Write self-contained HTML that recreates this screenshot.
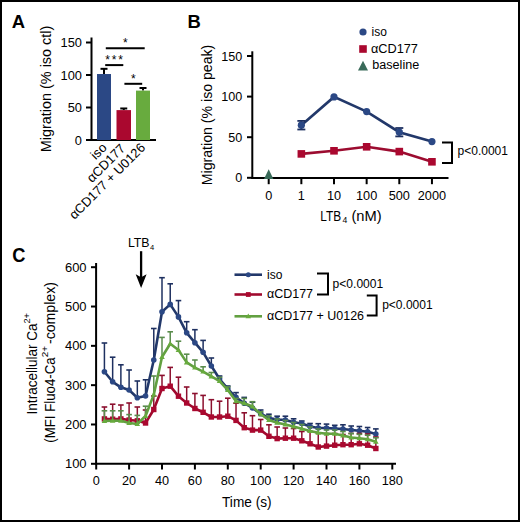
<!DOCTYPE html>
<html><head><meta charset="utf-8"><style>
html,body{margin:0;padding:0;background:#fff;overflow:hidden;width:520px;height:522px;}
svg{display:block;}
text{font-family:"Liberation Sans", sans-serif;fill:#000;}
</style></head><body>
<svg width="520" height="522" viewBox="0 0 520 522">
<rect x="0" y="0" width="520" height="522" fill="#000"/>
<rect x="2" y="2" width="516" height="518" fill="#fff"/>
<text x="11.8" y="27.5" font-size="18.6" text-anchor="start" font-weight="bold" textLength="13.3" lengthAdjust="spacingAndGlyphs" >A</text>
<line x1="91.5" y1="37.5" x2="91.5" y2="141" stroke="#000" stroke-width="2" stroke-linecap="butt"/>
<line x1="86" y1="140.0" x2="91.5" y2="140.0" stroke="#000" stroke-width="2" stroke-linecap="butt"/>
<text x="82" y="144.6" font-size="12" text-anchor="end" font-weight="normal" textLength="7.14" lengthAdjust="spacingAndGlyphs" >0</text>
<line x1="86" y1="107.5" x2="91.5" y2="107.5" stroke="#000" stroke-width="2" stroke-linecap="butt"/>
<text x="82" y="112.1" font-size="12" text-anchor="end" font-weight="normal" textLength="14.28" lengthAdjust="spacingAndGlyphs" >50</text>
<line x1="86" y1="75.0" x2="91.5" y2="75.0" stroke="#000" stroke-width="2" stroke-linecap="butt"/>
<text x="82" y="79.6" font-size="12" text-anchor="end" font-weight="normal" textLength="21.42" lengthAdjust="spacingAndGlyphs" >100</text>
<line x1="86" y1="42.5" x2="91.5" y2="42.5" stroke="#000" stroke-width="2" stroke-linecap="butt"/>
<text x="82" y="47.1" font-size="12" text-anchor="end" font-weight="normal" textLength="21.42" lengthAdjust="spacingAndGlyphs" >150</text>
<line x1="86" y1="140" x2="156" y2="140" stroke="#000" stroke-width="2" stroke-linecap="butt"/>
<line x1="104.0" y1="74.02499999999999" x2="104.0" y2="68.825" stroke="#000" stroke-width="2" stroke-linecap="butt"/>
<line x1="100.5" y1="68.825" x2="107.5" y2="68.825" stroke="#000" stroke-width="2" stroke-linecap="butt"/>
<rect x="97" y="74.02499999999999" width="14" height="65.97500000000001" fill="#2b4885"/>
<line x1="123.75" y1="110.1" x2="123.75" y2="108.475" stroke="#000" stroke-width="2" stroke-linecap="butt"/>
<line x1="120.25" y1="108.475" x2="127.25" y2="108.475" stroke="#000" stroke-width="2" stroke-linecap="butt"/>
<rect x="116.5" y="110.1" width="14.5" height="29.900000000000006" fill="#aa082f"/>
<line x1="143.0" y1="90.6" x2="143.0" y2="88.0" stroke="#000" stroke-width="2" stroke-linecap="butt"/>
<line x1="139.5" y1="88.0" x2="146.5" y2="88.0" stroke="#000" stroke-width="2" stroke-linecap="butt"/>
<rect x="136" y="90.6" width="14" height="49.400000000000006" fill="#68ab3e"/>
<line x1="105.8" y1="48.3" x2="144.7" y2="48.3" stroke="#000" stroke-width="2" stroke-linecap="butt"/>
<text x="125.4" y="47.0" font-size="12" text-anchor="middle" font-weight="normal" >*</text>
<line x1="105.2" y1="65.1" x2="123.3" y2="65.1" stroke="#000" stroke-width="2" stroke-linecap="butt"/>
<text x="107.5" y="63.8" font-size="12" text-anchor="middle" font-weight="normal" >*</text>
<text x="114.05" y="63.8" font-size="12" text-anchor="middle" font-weight="normal" >*</text>
<text x="120.6" y="63.8" font-size="12" text-anchor="middle" font-weight="normal" >*</text>
<line x1="124.4" y1="83.8" x2="142.2" y2="83.8" stroke="#000" stroke-width="2" stroke-linecap="butt"/>
<text x="133.3" y="82.5" font-size="12" text-anchor="middle" font-weight="normal" >*</text>
<text transform="translate(50.9,152.3) rotate(-90)" font-size="15.5" textLength="126.6" lengthAdjust="spacingAndGlyphs">Migration (% iso ctl)</text>
<text transform="translate(107.5,148.5) rotate(-45)" font-size="13" text-anchor="end" textLength="16.62" lengthAdjust="spacingAndGlyphs">iso</text>
<text transform="translate(126.0,149.3) rotate(-45)" font-size="13" text-anchor="end" textLength="47.98" lengthAdjust="spacingAndGlyphs">&#945;CD177</text>
<text transform="translate(146,148.5) rotate(-45)" font-size="13" text-anchor="end" textLength="101.1" lengthAdjust="spacingAndGlyphs">&#945;CD177 + U0126</text>
<text x="187.4" y="27.5" font-size="18.6" text-anchor="start" font-weight="bold" textLength="13.3" lengthAdjust="spacingAndGlyphs" >B</text>
<line x1="252.3" y1="51.3" x2="252.3" y2="178.8" stroke="#000" stroke-width="2" stroke-linecap="butt"/>
<line x1="247" y1="177.8" x2="252.3" y2="177.8" stroke="#000" stroke-width="2" stroke-linecap="butt"/>
<text x="242.3" y="182.4" font-size="12" text-anchor="end" font-weight="normal" textLength="7.01" lengthAdjust="spacingAndGlyphs" >0</text>
<line x1="247" y1="137.20000000000002" x2="252.3" y2="137.20000000000002" stroke="#000" stroke-width="2" stroke-linecap="butt"/>
<text x="242.3" y="141.8" font-size="12" text-anchor="end" font-weight="normal" textLength="14.01" lengthAdjust="spacingAndGlyphs" >50</text>
<line x1="247" y1="96.60000000000001" x2="252.3" y2="96.60000000000001" stroke="#000" stroke-width="2" stroke-linecap="butt"/>
<text x="242.3" y="101.2" font-size="12" text-anchor="end" font-weight="normal" textLength="21.02" lengthAdjust="spacingAndGlyphs" >100</text>
<line x1="247" y1="56.0" x2="252.3" y2="56.0" stroke="#000" stroke-width="2" stroke-linecap="butt"/>
<text x="242.3" y="60.6" font-size="12" text-anchor="end" font-weight="normal" textLength="21.02" lengthAdjust="spacingAndGlyphs" >150</text>
<line x1="251.3" y1="178.10000000000002" x2="448.5" y2="178.10000000000002" stroke="#000" stroke-width="2" stroke-linecap="butt"/>
<line x1="268.7" y1="177.8" x2="268.7" y2="184.2" stroke="#000" stroke-width="2" stroke-linecap="butt"/>
<text x="268.7" y="200" font-size="12" text-anchor="middle" font-weight="normal" textLength="7.07" lengthAdjust="spacingAndGlyphs" >0</text>
<line x1="301.34999999999997" y1="177.8" x2="301.34999999999997" y2="184.2" stroke="#000" stroke-width="2" stroke-linecap="butt"/>
<text x="301.34999999999997" y="200" font-size="12" text-anchor="middle" font-weight="normal" textLength="7.07" lengthAdjust="spacingAndGlyphs" >1</text>
<line x1="334.0" y1="177.8" x2="334.0" y2="184.2" stroke="#000" stroke-width="2" stroke-linecap="butt"/>
<text x="334.0" y="200" font-size="12" text-anchor="middle" font-weight="normal" textLength="14.15" lengthAdjust="spacingAndGlyphs" >10</text>
<line x1="366.65" y1="177.8" x2="366.65" y2="184.2" stroke="#000" stroke-width="2" stroke-linecap="butt"/>
<text x="366.65" y="200" font-size="12" text-anchor="middle" font-weight="normal" textLength="21.22" lengthAdjust="spacingAndGlyphs" >100</text>
<line x1="399.29999999999995" y1="177.8" x2="399.29999999999995" y2="184.2" stroke="#000" stroke-width="2" stroke-linecap="butt"/>
<text x="399.29999999999995" y="200" font-size="12" text-anchor="middle" font-weight="normal" textLength="21.22" lengthAdjust="spacingAndGlyphs" >500</text>
<line x1="431.95" y1="177.8" x2="431.95" y2="184.2" stroke="#000" stroke-width="2" stroke-linecap="butt"/>
<text x="431.95" y="200" font-size="12" text-anchor="middle" font-weight="normal" textLength="28.29" lengthAdjust="spacingAndGlyphs" >2000</text>
<text x="320.2" y="220.6" font-size="15" text-anchor="start" font-weight="normal" textLength="20.9" lengthAdjust="spacingAndGlyphs" >LTB</text>
<text x="342.4" y="222.6" font-size="8.6" text-anchor="start" font-weight="normal" >4</text>
<text x="351.4" y="220.6" font-size="15" text-anchor="start" font-weight="normal" textLength="30.2" lengthAdjust="spacingAndGlyphs" >(nM)</text>
<text transform="translate(211.7,185.2) rotate(-90)" font-size="15.5" textLength="140.5" lengthAdjust="spacingAndGlyphs">Migration (% iso peak)</text>
<polyline points="301.34999999999997,125.2 334.0,96.9 366.65,111.6 399.29999999999995,132.2 431.95,141.6" fill="none" stroke="#22386a" stroke-width="2.6"/>
<line x1="301.34999999999997" y1="120.9" x2="301.34999999999997" y2="129.5" stroke="#1e3060" stroke-width="2" stroke-linecap="butt"/>
<line x1="297.34999999999997" y1="120.9" x2="305.34999999999997" y2="120.9" stroke="#1e3060" stroke-width="1.8" stroke-linecap="butt"/>
<line x1="297.34999999999997" y1="129.5" x2="305.34999999999997" y2="129.5" stroke="#1e3060" stroke-width="1.8" stroke-linecap="butt"/>
<circle cx="301.34999999999997" cy="125.2" r="3.6" fill="#2b4885"/>
<circle cx="334.0" cy="96.9" r="3.6" fill="#2b4885"/>
<circle cx="366.65" cy="111.6" r="3.6" fill="#2b4885"/>
<line x1="399.29999999999995" y1="127.99999999999999" x2="399.29999999999995" y2="136.39999999999998" stroke="#1e3060" stroke-width="2" stroke-linecap="butt"/>
<line x1="395.29999999999995" y1="127.99999999999999" x2="403.29999999999995" y2="127.99999999999999" stroke="#1e3060" stroke-width="1.8" stroke-linecap="butt"/>
<line x1="395.29999999999995" y1="136.39999999999998" x2="403.29999999999995" y2="136.39999999999998" stroke="#1e3060" stroke-width="1.8" stroke-linecap="butt"/>
<circle cx="399.29999999999995" cy="132.2" r="3.6" fill="#2b4885"/>
<circle cx="431.95" cy="141.6" r="3.6" fill="#2b4885"/>
<polyline points="301.34999999999997,153.9 334.0,150.8 366.65,146.8 399.29999999999995,151.6 431.95,161.8" fill="none" stroke="#9c0c30" stroke-width="2.6"/>
<rect x="297.54999999999995" y="150.1" width="7.6" height="7.6" fill="#aa082f"/>
<rect x="330.2" y="147.0" width="7.6" height="7.6" fill="#aa082f"/>
<rect x="362.84999999999997" y="143.0" width="7.6" height="7.6" fill="#aa082f"/>
<rect x="395.49999999999994" y="147.79999999999998" width="7.6" height="7.6" fill="#aa082f"/>
<rect x="428.15" y="158.0" width="7.6" height="7.6" fill="#aa082f"/>
<polygon points="264.0,179.10000000000002 273.4,179.10000000000002 268.7,169.2" fill="#396a59"/>
<polyline points="442,142.6 452,142.6 452,163 442,163" fill="none" stroke="#000" stroke-width="2"/>
<text x="457.5" y="155.1" font-size="12" text-anchor="start" font-weight="normal" textLength="50.5" lengthAdjust="spacingAndGlyphs" >p&lt;0.0001</text>
<circle cx="363" cy="32" r="3.6" fill="#2b4885"/>
<text x="371.6" y="35.6" font-size="12" text-anchor="start" font-weight="normal" >iso</text>
<rect x="359.2" y="45.2" width="7.6" height="7.6" fill="#aa082f"/>
<text x="371" y="52.8" font-size="12" text-anchor="start" font-weight="normal" textLength="46.95" lengthAdjust="spacingAndGlyphs" >&#945;CD177</text>
<polygon points="358,70.5 368,70.5 363,60.8" fill="#396a59"/>
<text x="372.3" y="69.2" font-size="12" text-anchor="start" font-weight="normal" textLength="46.93" lengthAdjust="spacingAndGlyphs" >baseline</text>
<text x="12.3" y="262.2" font-size="20.2" text-anchor="start" font-weight="bold" textLength="13.2" lengthAdjust="spacingAndGlyphs" >C</text>
<line x1="96.1" y1="263" x2="96.1" y2="464.8" stroke="#000" stroke-width="2" stroke-linecap="butt"/>
<line x1="91" y1="463.8" x2="96.1" y2="463.8" stroke="#000" stroke-width="2" stroke-linecap="butt"/>
<text x="86.6" y="468.40000000000003" font-size="12" text-anchor="end" font-weight="normal" textLength="21.62" lengthAdjust="spacingAndGlyphs" >100</text>
<line x1="91" y1="424.48" x2="96.1" y2="424.48" stroke="#000" stroke-width="2" stroke-linecap="butt"/>
<text x="86.6" y="429.08000000000004" font-size="12" text-anchor="end" font-weight="normal" textLength="21.62" lengthAdjust="spacingAndGlyphs" >200</text>
<line x1="91" y1="385.16" x2="96.1" y2="385.16" stroke="#000" stroke-width="2" stroke-linecap="butt"/>
<text x="86.6" y="389.76000000000005" font-size="12" text-anchor="end" font-weight="normal" textLength="21.62" lengthAdjust="spacingAndGlyphs" >300</text>
<line x1="91" y1="345.84000000000003" x2="96.1" y2="345.84000000000003" stroke="#000" stroke-width="2" stroke-linecap="butt"/>
<text x="86.6" y="350.44000000000005" font-size="12" text-anchor="end" font-weight="normal" textLength="21.62" lengthAdjust="spacingAndGlyphs" >400</text>
<line x1="91" y1="306.52" x2="96.1" y2="306.52" stroke="#000" stroke-width="2" stroke-linecap="butt"/>
<text x="86.6" y="311.12" font-size="12" text-anchor="end" font-weight="normal" textLength="21.62" lengthAdjust="spacingAndGlyphs" >500</text>
<line x1="91" y1="267.20000000000005" x2="96.1" y2="267.20000000000005" stroke="#000" stroke-width="2" stroke-linecap="butt"/>
<text x="86.6" y="271.80000000000007" font-size="12" text-anchor="end" font-weight="normal" textLength="21.62" lengthAdjust="spacingAndGlyphs" >600</text>
<line x1="96.1" y1="463.8" x2="396" y2="463.8" stroke="#000" stroke-width="2" stroke-linecap="butt"/>
<line x1="96.2" y1="463.8" x2="96.2" y2="469.5" stroke="#000" stroke-width="2" stroke-linecap="butt"/>
<text x="96.2" y="485.2" font-size="12" text-anchor="middle" font-weight="normal" textLength="7.07" lengthAdjust="spacingAndGlyphs" >0</text>
<line x1="129.1" y1="463.8" x2="129.1" y2="469.5" stroke="#000" stroke-width="2" stroke-linecap="butt"/>
<text x="129.1" y="485.2" font-size="12" text-anchor="middle" font-weight="normal" textLength="14.15" lengthAdjust="spacingAndGlyphs" >20</text>
<line x1="162.0" y1="463.8" x2="162.0" y2="469.5" stroke="#000" stroke-width="2" stroke-linecap="butt"/>
<text x="162.0" y="485.2" font-size="12" text-anchor="middle" font-weight="normal" textLength="14.15" lengthAdjust="spacingAndGlyphs" >40</text>
<line x1="194.89999999999998" y1="463.8" x2="194.89999999999998" y2="469.5" stroke="#000" stroke-width="2" stroke-linecap="butt"/>
<text x="194.89999999999998" y="485.2" font-size="12" text-anchor="middle" font-weight="normal" textLength="14.15" lengthAdjust="spacingAndGlyphs" >60</text>
<line x1="227.8" y1="463.8" x2="227.8" y2="469.5" stroke="#000" stroke-width="2" stroke-linecap="butt"/>
<text x="227.8" y="485.2" font-size="12" text-anchor="middle" font-weight="normal" textLength="14.15" lengthAdjust="spacingAndGlyphs" >80</text>
<line x1="260.7" y1="463.8" x2="260.7" y2="469.5" stroke="#000" stroke-width="2" stroke-linecap="butt"/>
<text x="260.7" y="485.2" font-size="12" text-anchor="middle" font-weight="normal" textLength="21.22" lengthAdjust="spacingAndGlyphs" >100</text>
<line x1="293.59999999999997" y1="463.8" x2="293.59999999999997" y2="469.5" stroke="#000" stroke-width="2" stroke-linecap="butt"/>
<text x="293.59999999999997" y="485.2" font-size="12" text-anchor="middle" font-weight="normal" textLength="21.22" lengthAdjust="spacingAndGlyphs" >120</text>
<line x1="326.5" y1="463.8" x2="326.5" y2="469.5" stroke="#000" stroke-width="2" stroke-linecap="butt"/>
<text x="326.5" y="485.2" font-size="12" text-anchor="middle" font-weight="normal" textLength="21.22" lengthAdjust="spacingAndGlyphs" >140</text>
<line x1="359.4" y1="463.8" x2="359.4" y2="469.5" stroke="#000" stroke-width="2" stroke-linecap="butt"/>
<text x="359.4" y="485.2" font-size="12" text-anchor="middle" font-weight="normal" textLength="21.22" lengthAdjust="spacingAndGlyphs" >160</text>
<line x1="392.29999999999995" y1="463.8" x2="392.29999999999995" y2="469.5" stroke="#000" stroke-width="2" stroke-linecap="butt"/>
<text x="392.29999999999995" y="485.2" font-size="12" text-anchor="middle" font-weight="normal" textLength="21.22" lengthAdjust="spacingAndGlyphs" >180</text>
<text x="246.8" y="506.8" font-size="15.5" text-anchor="middle" font-weight="normal" textLength="49.5" lengthAdjust="spacingAndGlyphs" >Time (s)</text>
<text transform="translate(36.6,414.4) rotate(-90)" font-size="14.5" textLength="90.9" lengthAdjust="spacingAndGlyphs">Intracellular Ca</text>
<text transform="translate(29.6,323.5) rotate(-90)" font-size="8.5" textLength="10.5" lengthAdjust="spacingAndGlyphs">2+</text>
<text transform="translate(55.4,442.7) rotate(-90)" font-size="14.5" textLength="85.4" lengthAdjust="spacingAndGlyphs">(MFI Fluo4-Ca</text>
<text transform="translate(48.4,357.3) rotate(-90)" font-size="8.5" textLength="11.3" lengthAdjust="spacingAndGlyphs">2+</text>
<text transform="translate(55.4,344.0) rotate(-90)" font-size="14.5" textLength="61.9" lengthAdjust="spacingAndGlyphs">-complex)</text>
<text x="127.9" y="247" font-size="12.4" text-anchor="start" font-weight="normal" textLength="21.7" lengthAdjust="spacingAndGlyphs" >LTB</text>
<text x="149.9" y="250" font-size="7.6" text-anchor="start" font-weight="normal" >4</text>
<line x1="141.1" y1="251.2" x2="141.1" y2="278" stroke="#000" stroke-width="2.3" stroke-linecap="butt"/>
<polygon points="135.7,274.2 141.1,277.2 146.6,274.2 141.1,287.9" fill="#000"/>
<line x1="104.42" y1="371.7" x2="104.42" y2="343" stroke="#1e3060" stroke-width="1.5" stroke-linecap="butt"/>
<line x1="101.62" y1="343" x2="107.22" y2="343" stroke="#1e3060" stroke-width="1.6" stroke-linecap="butt"/>
<line x1="112.65" y1="381.8" x2="112.65" y2="357.2" stroke="#1e3060" stroke-width="1.5" stroke-linecap="butt"/>
<line x1="109.85000000000001" y1="357.2" x2="115.45" y2="357.2" stroke="#1e3060" stroke-width="1.6" stroke-linecap="butt"/>
<line x1="120.88" y1="387.3" x2="120.88" y2="364.8" stroke="#1e3060" stroke-width="1.5" stroke-linecap="butt"/>
<line x1="118.08" y1="364.8" x2="123.67999999999999" y2="364.8" stroke="#1e3060" stroke-width="1.6" stroke-linecap="butt"/>
<line x1="129.1" y1="390" x2="129.1" y2="370" stroke="#1e3060" stroke-width="1.5" stroke-linecap="butt"/>
<line x1="126.3" y1="370" x2="131.9" y2="370" stroke="#1e3060" stroke-width="1.6" stroke-linecap="butt"/>
<line x1="137.32" y1="397.7" x2="137.32" y2="381" stroke="#1e3060" stroke-width="1.5" stroke-linecap="butt"/>
<line x1="134.51999999999998" y1="381" x2="140.12" y2="381" stroke="#1e3060" stroke-width="1.6" stroke-linecap="butt"/>
<line x1="145.55" y1="396" x2="145.55" y2="379.8" stroke="#1e3060" stroke-width="1.5" stroke-linecap="butt"/>
<line x1="142.75" y1="379.8" x2="148.35000000000002" y2="379.8" stroke="#1e3060" stroke-width="1.6" stroke-linecap="butt"/>
<line x1="153.78" y1="360" x2="153.78" y2="328.5" stroke="#1e3060" stroke-width="1.5" stroke-linecap="butt"/>
<line x1="150.98" y1="328.5" x2="156.58" y2="328.5" stroke="#1e3060" stroke-width="1.6" stroke-linecap="butt"/>
<line x1="162.0" y1="311.7" x2="162.0" y2="277.7" stroke="#1e3060" stroke-width="1.5" stroke-linecap="butt"/>
<line x1="159.2" y1="277.7" x2="164.8" y2="277.7" stroke="#1e3060" stroke-width="1.6" stroke-linecap="butt"/>
<line x1="170.23" y1="304.4" x2="170.23" y2="283.8" stroke="#1e3060" stroke-width="1.5" stroke-linecap="butt"/>
<line x1="167.42999999999998" y1="283.8" x2="173.03" y2="283.8" stroke="#1e3060" stroke-width="1.6" stroke-linecap="butt"/>
<line x1="178.45" y1="316.9" x2="178.45" y2="300.6" stroke="#1e3060" stroke-width="1.5" stroke-linecap="butt"/>
<line x1="175.64999999999998" y1="300.6" x2="181.25" y2="300.6" stroke="#1e3060" stroke-width="1.6" stroke-linecap="butt"/>
<line x1="186.68" y1="332.8" x2="186.68" y2="321.7" stroke="#1e3060" stroke-width="1.5" stroke-linecap="butt"/>
<line x1="183.88" y1="321.7" x2="189.48000000000002" y2="321.7" stroke="#1e3060" stroke-width="1.6" stroke-linecap="butt"/>
<line x1="194.9" y1="342.7" x2="194.9" y2="329.7" stroke="#1e3060" stroke-width="1.5" stroke-linecap="butt"/>
<line x1="192.1" y1="329.7" x2="197.70000000000002" y2="329.7" stroke="#1e3060" stroke-width="1.6" stroke-linecap="butt"/>
<line x1="203.12" y1="352.3" x2="203.12" y2="340.4" stroke="#1e3060" stroke-width="1.5" stroke-linecap="butt"/>
<line x1="200.32" y1="340.4" x2="205.92000000000002" y2="340.4" stroke="#1e3060" stroke-width="1.6" stroke-linecap="butt"/>
<line x1="211.35" y1="366" x2="211.35" y2="358" stroke="#1e3060" stroke-width="1.5" stroke-linecap="butt"/>
<line x1="208.54999999999998" y1="358" x2="214.15" y2="358" stroke="#1e3060" stroke-width="1.6" stroke-linecap="butt"/>
<line x1="219.57" y1="379" x2="219.57" y2="376" stroke="#1e3060" stroke-width="1.5" stroke-linecap="butt"/>
<line x1="216.76999999999998" y1="376" x2="222.37" y2="376" stroke="#1e3060" stroke-width="1.6" stroke-linecap="butt"/>
<line x1="227.8" y1="388.8" x2="227.8" y2="386" stroke="#1e3060" stroke-width="1.5" stroke-linecap="butt"/>
<line x1="225.0" y1="386" x2="230.60000000000002" y2="386" stroke="#1e3060" stroke-width="1.6" stroke-linecap="butt"/>
<line x1="236.02" y1="397.4" x2="236.02" y2="392.6" stroke="#1e3060" stroke-width="1.5" stroke-linecap="butt"/>
<line x1="233.22" y1="392.6" x2="238.82000000000002" y2="392.6" stroke="#1e3060" stroke-width="1.6" stroke-linecap="butt"/>
<line x1="244.25" y1="403.2" x2="244.25" y2="397.4" stroke="#1e3060" stroke-width="1.5" stroke-linecap="butt"/>
<line x1="241.45" y1="397.4" x2="247.05" y2="397.4" stroke="#1e3060" stroke-width="1.6" stroke-linecap="butt"/>
<line x1="252.48" y1="408" x2="252.48" y2="402.2" stroke="#1e3060" stroke-width="1.5" stroke-linecap="butt"/>
<line x1="249.67999999999998" y1="402.2" x2="255.28" y2="402.2" stroke="#1e3060" stroke-width="1.6" stroke-linecap="butt"/>
<line x1="260.7" y1="413.7" x2="260.7" y2="410" stroke="#1e3060" stroke-width="1.5" stroke-linecap="butt"/>
<line x1="257.9" y1="410" x2="263.5" y2="410" stroke="#1e3060" stroke-width="1.6" stroke-linecap="butt"/>
<line x1="268.93" y1="418" x2="268.93" y2="414.2" stroke="#1e3060" stroke-width="1.5" stroke-linecap="butt"/>
<line x1="266.13" y1="414.2" x2="271.73" y2="414.2" stroke="#1e3060" stroke-width="1.6" stroke-linecap="butt"/>
<line x1="277.15" y1="419.5" x2="277.15" y2="416.2" stroke="#1e3060" stroke-width="1.5" stroke-linecap="butt"/>
<line x1="274.34999999999997" y1="416.2" x2="279.95" y2="416.2" stroke="#1e3060" stroke-width="1.6" stroke-linecap="butt"/>
<line x1="285.38" y1="420" x2="285.38" y2="416.2" stroke="#1e3060" stroke-width="1.5" stroke-linecap="butt"/>
<line x1="282.58" y1="416.2" x2="288.18" y2="416.2" stroke="#1e3060" stroke-width="1.6" stroke-linecap="butt"/>
<line x1="293.6" y1="422.2" x2="293.6" y2="418.8" stroke="#1e3060" stroke-width="1.5" stroke-linecap="butt"/>
<line x1="290.8" y1="418.8" x2="296.40000000000003" y2="418.8" stroke="#1e3060" stroke-width="1.6" stroke-linecap="butt"/>
<line x1="301.82" y1="423.5" x2="301.82" y2="421" stroke="#1e3060" stroke-width="1.5" stroke-linecap="butt"/>
<line x1="299.02" y1="421" x2="304.62" y2="421" stroke="#1e3060" stroke-width="1.6" stroke-linecap="butt"/>
<line x1="310.05" y1="426.5" x2="310.05" y2="423.5" stroke="#1e3060" stroke-width="1.5" stroke-linecap="butt"/>
<line x1="307.25" y1="423.5" x2="312.85" y2="423.5" stroke="#1e3060" stroke-width="1.6" stroke-linecap="butt"/>
<line x1="318.27" y1="428" x2="318.27" y2="423.7" stroke="#1e3060" stroke-width="1.5" stroke-linecap="butt"/>
<line x1="315.46999999999997" y1="423.7" x2="321.07" y2="423.7" stroke="#1e3060" stroke-width="1.6" stroke-linecap="butt"/>
<line x1="326.5" y1="428" x2="326.5" y2="424.1" stroke="#1e3060" stroke-width="1.5" stroke-linecap="butt"/>
<line x1="323.7" y1="424.1" x2="329.3" y2="424.1" stroke="#1e3060" stroke-width="1.6" stroke-linecap="butt"/>
<line x1="334.73" y1="428.6" x2="334.73" y2="425.3" stroke="#1e3060" stroke-width="1.5" stroke-linecap="butt"/>
<line x1="331.93" y1="425.3" x2="337.53000000000003" y2="425.3" stroke="#1e3060" stroke-width="1.6" stroke-linecap="butt"/>
<line x1="342.95" y1="429" x2="342.95" y2="424.8" stroke="#1e3060" stroke-width="1.5" stroke-linecap="butt"/>
<line x1="340.15" y1="424.8" x2="345.75" y2="424.8" stroke="#1e3060" stroke-width="1.6" stroke-linecap="butt"/>
<line x1="351.18" y1="430" x2="351.18" y2="426" stroke="#1e3060" stroke-width="1.5" stroke-linecap="butt"/>
<line x1="348.38" y1="426" x2="353.98" y2="426" stroke="#1e3060" stroke-width="1.6" stroke-linecap="butt"/>
<line x1="359.4" y1="430.8" x2="359.4" y2="426.5" stroke="#1e3060" stroke-width="1.5" stroke-linecap="butt"/>
<line x1="356.59999999999997" y1="426.5" x2="362.2" y2="426.5" stroke="#1e3060" stroke-width="1.6" stroke-linecap="butt"/>
<line x1="367.62" y1="431.8" x2="367.62" y2="427.5" stroke="#1e3060" stroke-width="1.5" stroke-linecap="butt"/>
<line x1="364.82" y1="427.5" x2="370.42" y2="427.5" stroke="#1e3060" stroke-width="1.6" stroke-linecap="butt"/>
<line x1="375.85" y1="434" x2="375.85" y2="428.9" stroke="#1e3060" stroke-width="1.5" stroke-linecap="butt"/>
<line x1="373.05" y1="428.9" x2="378.65000000000003" y2="428.9" stroke="#1e3060" stroke-width="1.6" stroke-linecap="butt"/>
<polyline points="104.42,371.7 112.65,381.8 120.88,387.3 129.1,390 137.32,397.7 145.55,396 153.78,360 162.0,311.7 170.23,304.4 178.45,316.9 186.68,332.8 194.9,342.7 203.12,352.3 211.35,366 219.57,379 227.8,388.8 236.02,397.4 244.25,403.2 252.48,408 260.7,413.7 268.93,418 277.15,419.5 285.38,420 293.6,422.2 301.82,423.5 310.05,426.5 318.27,428 326.5,428 334.73,428.6 342.95,429 351.18,430 359.4,430.8 367.62,431.8 375.85,434" fill="none" stroke="#22386a" stroke-width="2.6" stroke-linejoin="round"/>
<circle cx="104.42" cy="371.7" r="2.8" fill="#2b4885"/>
<circle cx="112.65" cy="381.8" r="2.8" fill="#2b4885"/>
<circle cx="120.88" cy="387.3" r="2.8" fill="#2b4885"/>
<circle cx="129.1" cy="390" r="2.8" fill="#2b4885"/>
<circle cx="137.32" cy="397.7" r="2.8" fill="#2b4885"/>
<circle cx="145.55" cy="396" r="2.8" fill="#2b4885"/>
<circle cx="153.78" cy="360" r="2.8" fill="#2b4885"/>
<circle cx="162.0" cy="311.7" r="2.8" fill="#2b4885"/>
<circle cx="170.23" cy="304.4" r="2.8" fill="#2b4885"/>
<circle cx="178.45" cy="316.9" r="2.8" fill="#2b4885"/>
<circle cx="186.68" cy="332.8" r="2.8" fill="#2b4885"/>
<circle cx="194.9" cy="342.7" r="2.8" fill="#2b4885"/>
<circle cx="203.12" cy="352.3" r="2.8" fill="#2b4885"/>
<circle cx="211.35" cy="366" r="2.8" fill="#2b4885"/>
<circle cx="219.57" cy="379" r="2.8" fill="#2b4885"/>
<circle cx="227.8" cy="388.8" r="2.8" fill="#2b4885"/>
<circle cx="236.02" cy="397.4" r="2.8" fill="#2b4885"/>
<circle cx="244.25" cy="403.2" r="2.8" fill="#2b4885"/>
<circle cx="252.48" cy="408" r="2.8" fill="#2b4885"/>
<circle cx="260.7" cy="413.7" r="2.8" fill="#2b4885"/>
<circle cx="268.93" cy="418" r="2.8" fill="#2b4885"/>
<circle cx="277.15" cy="419.5" r="2.8" fill="#2b4885"/>
<circle cx="285.38" cy="420" r="2.8" fill="#2b4885"/>
<circle cx="293.6" cy="422.2" r="2.8" fill="#2b4885"/>
<circle cx="301.82" cy="423.5" r="2.8" fill="#2b4885"/>
<circle cx="310.05" cy="426.5" r="2.8" fill="#2b4885"/>
<circle cx="318.27" cy="428" r="2.8" fill="#2b4885"/>
<circle cx="326.5" cy="428" r="2.8" fill="#2b4885"/>
<circle cx="334.73" cy="428.6" r="2.8" fill="#2b4885"/>
<circle cx="342.95" cy="429" r="2.8" fill="#2b4885"/>
<circle cx="351.18" cy="430" r="2.8" fill="#2b4885"/>
<circle cx="359.4" cy="430.8" r="2.8" fill="#2b4885"/>
<circle cx="367.62" cy="431.8" r="2.8" fill="#2b4885"/>
<circle cx="375.85" cy="434" r="2.8" fill="#2b4885"/>
<line x1="104.42" y1="418.9" x2="104.42" y2="407" stroke="#8c0f2e" stroke-width="1.5" stroke-linecap="butt"/>
<line x1="101.62" y1="407" x2="107.22" y2="407" stroke="#8c0f2e" stroke-width="1.6" stroke-linecap="butt"/>
<line x1="112.65" y1="419.2" x2="112.65" y2="404.2" stroke="#8c0f2e" stroke-width="1.5" stroke-linecap="butt"/>
<line x1="109.85000000000001" y1="404.2" x2="115.45" y2="404.2" stroke="#8c0f2e" stroke-width="1.6" stroke-linecap="butt"/>
<line x1="120.88" y1="418.9" x2="120.88" y2="405" stroke="#8c0f2e" stroke-width="1.5" stroke-linecap="butt"/>
<line x1="118.08" y1="405" x2="123.67999999999999" y2="405" stroke="#8c0f2e" stroke-width="1.6" stroke-linecap="butt"/>
<line x1="129.1" y1="420" x2="129.1" y2="403" stroke="#8c0f2e" stroke-width="1.5" stroke-linecap="butt"/>
<line x1="126.3" y1="403" x2="131.9" y2="403" stroke="#8c0f2e" stroke-width="1.6" stroke-linecap="butt"/>
<line x1="137.32" y1="420.8" x2="137.32" y2="407" stroke="#8c0f2e" stroke-width="1.5" stroke-linecap="butt"/>
<line x1="134.51999999999998" y1="407" x2="140.12" y2="407" stroke="#8c0f2e" stroke-width="1.6" stroke-linecap="butt"/>
<line x1="145.55" y1="423" x2="145.55" y2="410" stroke="#8c0f2e" stroke-width="1.5" stroke-linecap="butt"/>
<line x1="142.75" y1="410" x2="148.35000000000002" y2="410" stroke="#8c0f2e" stroke-width="1.6" stroke-linecap="butt"/>
<line x1="153.78" y1="409.5" x2="153.78" y2="396" stroke="#8c0f2e" stroke-width="1.5" stroke-linecap="butt"/>
<line x1="150.98" y1="396" x2="156.58" y2="396" stroke="#8c0f2e" stroke-width="1.6" stroke-linecap="butt"/>
<line x1="162.0" y1="388.5" x2="162.0" y2="375.4" stroke="#8c0f2e" stroke-width="1.5" stroke-linecap="butt"/>
<line x1="159.2" y1="375.4" x2="164.8" y2="375.4" stroke="#8c0f2e" stroke-width="1.6" stroke-linecap="butt"/>
<line x1="170.23" y1="386.2" x2="170.23" y2="367.4" stroke="#8c0f2e" stroke-width="1.5" stroke-linecap="butt"/>
<line x1="167.42999999999998" y1="367.4" x2="173.03" y2="367.4" stroke="#8c0f2e" stroke-width="1.6" stroke-linecap="butt"/>
<line x1="178.45" y1="396.2" x2="178.45" y2="377.2" stroke="#8c0f2e" stroke-width="1.5" stroke-linecap="butt"/>
<line x1="175.64999999999998" y1="377.2" x2="181.25" y2="377.2" stroke="#8c0f2e" stroke-width="1.6" stroke-linecap="butt"/>
<line x1="186.68" y1="403" x2="186.68" y2="387" stroke="#8c0f2e" stroke-width="1.5" stroke-linecap="butt"/>
<line x1="183.88" y1="387" x2="189.48000000000002" y2="387" stroke="#8c0f2e" stroke-width="1.6" stroke-linecap="butt"/>
<line x1="194.9" y1="408.5" x2="194.9" y2="393.5" stroke="#8c0f2e" stroke-width="1.5" stroke-linecap="butt"/>
<line x1="192.1" y1="393.5" x2="197.70000000000002" y2="393.5" stroke="#8c0f2e" stroke-width="1.6" stroke-linecap="butt"/>
<line x1="203.12" y1="412.3" x2="203.12" y2="395.4" stroke="#8c0f2e" stroke-width="1.5" stroke-linecap="butt"/>
<line x1="200.32" y1="395.4" x2="205.92000000000002" y2="395.4" stroke="#8c0f2e" stroke-width="1.6" stroke-linecap="butt"/>
<line x1="211.35" y1="417" x2="211.35" y2="399.7" stroke="#8c0f2e" stroke-width="1.5" stroke-linecap="butt"/>
<line x1="208.54999999999998" y1="399.7" x2="214.15" y2="399.7" stroke="#8c0f2e" stroke-width="1.6" stroke-linecap="butt"/>
<line x1="219.57" y1="417" x2="219.57" y2="401.2" stroke="#8c0f2e" stroke-width="1.5" stroke-linecap="butt"/>
<line x1="216.76999999999998" y1="401.2" x2="222.37" y2="401.2" stroke="#8c0f2e" stroke-width="1.6" stroke-linecap="butt"/>
<line x1="227.8" y1="416.2" x2="227.8" y2="398.2" stroke="#8c0f2e" stroke-width="1.5" stroke-linecap="butt"/>
<line x1="225.0" y1="398.2" x2="230.60000000000002" y2="398.2" stroke="#8c0f2e" stroke-width="1.6" stroke-linecap="butt"/>
<line x1="236.02" y1="420.4" x2="236.02" y2="403.2" stroke="#8c0f2e" stroke-width="1.5" stroke-linecap="butt"/>
<line x1="233.22" y1="403.2" x2="238.82000000000002" y2="403.2" stroke="#8c0f2e" stroke-width="1.6" stroke-linecap="butt"/>
<line x1="244.25" y1="427.7" x2="244.25" y2="412.8" stroke="#8c0f2e" stroke-width="1.5" stroke-linecap="butt"/>
<line x1="241.45" y1="412.8" x2="247.05" y2="412.8" stroke="#8c0f2e" stroke-width="1.6" stroke-linecap="butt"/>
<line x1="252.48" y1="430.1" x2="252.48" y2="415.7" stroke="#8c0f2e" stroke-width="1.5" stroke-linecap="butt"/>
<line x1="249.67999999999998" y1="415.7" x2="255.28" y2="415.7" stroke="#8c0f2e" stroke-width="1.6" stroke-linecap="butt"/>
<line x1="260.7" y1="430.1" x2="260.7" y2="419.5" stroke="#8c0f2e" stroke-width="1.5" stroke-linecap="butt"/>
<line x1="257.9" y1="419.5" x2="263.5" y2="419.5" stroke="#8c0f2e" stroke-width="1.6" stroke-linecap="butt"/>
<line x1="268.93" y1="436.3" x2="268.93" y2="424.8" stroke="#8c0f2e" stroke-width="1.5" stroke-linecap="butt"/>
<line x1="266.13" y1="424.8" x2="271.73" y2="424.8" stroke="#8c0f2e" stroke-width="1.6" stroke-linecap="butt"/>
<line x1="277.15" y1="438.6" x2="277.15" y2="427" stroke="#8c0f2e" stroke-width="1.5" stroke-linecap="butt"/>
<line x1="274.34999999999997" y1="427" x2="279.95" y2="427" stroke="#8c0f2e" stroke-width="1.6" stroke-linecap="butt"/>
<line x1="285.38" y1="438.2" x2="285.38" y2="428" stroke="#8c0f2e" stroke-width="1.5" stroke-linecap="butt"/>
<line x1="282.58" y1="428" x2="288.18" y2="428" stroke="#8c0f2e" stroke-width="1.6" stroke-linecap="butt"/>
<line x1="293.6" y1="438.2" x2="293.6" y2="428.5" stroke="#8c0f2e" stroke-width="1.5" stroke-linecap="butt"/>
<line x1="290.8" y1="428.5" x2="296.40000000000003" y2="428.5" stroke="#8c0f2e" stroke-width="1.6" stroke-linecap="butt"/>
<line x1="301.82" y1="440.8" x2="301.82" y2="431.5" stroke="#8c0f2e" stroke-width="1.5" stroke-linecap="butt"/>
<line x1="299.02" y1="431.5" x2="304.62" y2="431.5" stroke="#8c0f2e" stroke-width="1.6" stroke-linecap="butt"/>
<line x1="310.05" y1="443.8" x2="310.05" y2="431.5" stroke="#8c0f2e" stroke-width="1.5" stroke-linecap="butt"/>
<line x1="307.25" y1="431.5" x2="312.85" y2="431.5" stroke="#8c0f2e" stroke-width="1.6" stroke-linecap="butt"/>
<line x1="318.27" y1="447" x2="318.27" y2="433" stroke="#8c0f2e" stroke-width="1.5" stroke-linecap="butt"/>
<line x1="315.46999999999997" y1="433" x2="321.07" y2="433" stroke="#8c0f2e" stroke-width="1.6" stroke-linecap="butt"/>
<line x1="326.5" y1="446.1" x2="326.5" y2="433.5" stroke="#8c0f2e" stroke-width="1.5" stroke-linecap="butt"/>
<line x1="323.7" y1="433.5" x2="329.3" y2="433.5" stroke="#8c0f2e" stroke-width="1.6" stroke-linecap="butt"/>
<line x1="334.73" y1="445.2" x2="334.73" y2="433.5" stroke="#8c0f2e" stroke-width="1.5" stroke-linecap="butt"/>
<line x1="331.93" y1="433.5" x2="337.53000000000003" y2="433.5" stroke="#8c0f2e" stroke-width="1.6" stroke-linecap="butt"/>
<line x1="342.95" y1="444.7" x2="342.95" y2="434.5" stroke="#8c0f2e" stroke-width="1.5" stroke-linecap="butt"/>
<line x1="340.15" y1="434.5" x2="345.75" y2="434.5" stroke="#8c0f2e" stroke-width="1.6" stroke-linecap="butt"/>
<line x1="351.18" y1="444.7" x2="351.18" y2="433.5" stroke="#8c0f2e" stroke-width="1.5" stroke-linecap="butt"/>
<line x1="348.38" y1="433.5" x2="353.98" y2="433.5" stroke="#8c0f2e" stroke-width="1.6" stroke-linecap="butt"/>
<line x1="359.4" y1="443.8" x2="359.4" y2="433.5" stroke="#8c0f2e" stroke-width="1.5" stroke-linecap="butt"/>
<line x1="356.59999999999997" y1="433.5" x2="362.2" y2="433.5" stroke="#8c0f2e" stroke-width="1.6" stroke-linecap="butt"/>
<line x1="367.62" y1="445.2" x2="367.62" y2="434" stroke="#8c0f2e" stroke-width="1.5" stroke-linecap="butt"/>
<line x1="364.82" y1="434" x2="370.42" y2="434" stroke="#8c0f2e" stroke-width="1.6" stroke-linecap="butt"/>
<line x1="375.85" y1="448.5" x2="375.85" y2="437" stroke="#8c0f2e" stroke-width="1.5" stroke-linecap="butt"/>
<line x1="373.05" y1="437" x2="378.65000000000003" y2="437" stroke="#8c0f2e" stroke-width="1.6" stroke-linecap="butt"/>
<polyline points="104.42,418.9 112.65,419.2 120.88,418.9 129.1,420 137.32,420.8 145.55,423 153.78,409.5 162.0,388.5 170.23,386.2 178.45,396.2 186.68,403 194.9,408.5 203.12,412.3 211.35,417 219.57,417 227.8,416.2 236.02,420.4 244.25,427.7 252.48,430.1 260.7,430.1 268.93,436.3 277.15,438.6 285.38,438.2 293.6,438.2 301.82,440.8 310.05,443.8 318.27,447 326.5,446.1 334.73,445.2 342.95,444.7 351.18,444.7 359.4,443.8 367.62,445.2 375.85,448.5" fill="none" stroke="#a00a2e" stroke-width="2.6" stroke-linejoin="round"/>
<rect x="101.72" y="416.2" width="5.4" height="5.4" fill="#aa082f"/>
<rect x="109.95" y="416.5" width="5.4" height="5.4" fill="#aa082f"/>
<rect x="118.17999999999999" y="416.2" width="5.4" height="5.4" fill="#aa082f"/>
<rect x="126.39999999999999" y="417.3" width="5.4" height="5.4" fill="#aa082f"/>
<rect x="134.62" y="418.1" width="5.4" height="5.4" fill="#aa082f"/>
<rect x="142.85000000000002" y="420.3" width="5.4" height="5.4" fill="#aa082f"/>
<rect x="151.08" y="406.8" width="5.4" height="5.4" fill="#aa082f"/>
<rect x="159.3" y="385.8" width="5.4" height="5.4" fill="#aa082f"/>
<rect x="167.53" y="383.5" width="5.4" height="5.4" fill="#aa082f"/>
<rect x="175.75" y="393.5" width="5.4" height="5.4" fill="#aa082f"/>
<rect x="183.98000000000002" y="400.3" width="5.4" height="5.4" fill="#aa082f"/>
<rect x="192.20000000000002" y="405.8" width="5.4" height="5.4" fill="#aa082f"/>
<rect x="200.42000000000002" y="409.6" width="5.4" height="5.4" fill="#aa082f"/>
<rect x="208.65" y="414.3" width="5.4" height="5.4" fill="#aa082f"/>
<rect x="216.87" y="414.3" width="5.4" height="5.4" fill="#aa082f"/>
<rect x="225.10000000000002" y="413.5" width="5.4" height="5.4" fill="#aa082f"/>
<rect x="233.32000000000002" y="417.7" width="5.4" height="5.4" fill="#aa082f"/>
<rect x="241.55" y="425.0" width="5.4" height="5.4" fill="#aa082f"/>
<rect x="249.78" y="427.40000000000003" width="5.4" height="5.4" fill="#aa082f"/>
<rect x="258.0" y="427.40000000000003" width="5.4" height="5.4" fill="#aa082f"/>
<rect x="266.23" y="433.6" width="5.4" height="5.4" fill="#aa082f"/>
<rect x="274.45" y="435.90000000000003" width="5.4" height="5.4" fill="#aa082f"/>
<rect x="282.68" y="435.5" width="5.4" height="5.4" fill="#aa082f"/>
<rect x="290.90000000000003" y="435.5" width="5.4" height="5.4" fill="#aa082f"/>
<rect x="299.12" y="438.1" width="5.4" height="5.4" fill="#aa082f"/>
<rect x="307.35" y="441.1" width="5.4" height="5.4" fill="#aa082f"/>
<rect x="315.57" y="444.3" width="5.4" height="5.4" fill="#aa082f"/>
<rect x="323.8" y="443.40000000000003" width="5.4" height="5.4" fill="#aa082f"/>
<rect x="332.03000000000003" y="442.5" width="5.4" height="5.4" fill="#aa082f"/>
<rect x="340.25" y="442.0" width="5.4" height="5.4" fill="#aa082f"/>
<rect x="348.48" y="442.0" width="5.4" height="5.4" fill="#aa082f"/>
<rect x="356.7" y="441.1" width="5.4" height="5.4" fill="#aa082f"/>
<rect x="364.92" y="442.5" width="5.4" height="5.4" fill="#aa082f"/>
<rect x="373.15000000000003" y="445.8" width="5.4" height="5.4" fill="#aa082f"/>
<line x1="104.42" y1="421" x2="104.42" y2="410.8" stroke="#5a8c4c" stroke-width="1.5" stroke-linecap="butt"/>
<line x1="101.62" y1="410.8" x2="107.22" y2="410.8" stroke="#5a8c4c" stroke-width="1.6" stroke-linecap="butt"/>
<line x1="112.65" y1="420.8" x2="112.65" y2="410.8" stroke="#5a8c4c" stroke-width="1.5" stroke-linecap="butt"/>
<line x1="109.85000000000001" y1="410.8" x2="115.45" y2="410.8" stroke="#5a8c4c" stroke-width="1.6" stroke-linecap="butt"/>
<line x1="120.88" y1="420.8" x2="120.88" y2="410.8" stroke="#5a8c4c" stroke-width="1.5" stroke-linecap="butt"/>
<line x1="118.08" y1="410.8" x2="123.67999999999999" y2="410.8" stroke="#5a8c4c" stroke-width="1.6" stroke-linecap="butt"/>
<line x1="129.1" y1="423" x2="129.1" y2="414.6" stroke="#5a8c4c" stroke-width="1.5" stroke-linecap="butt"/>
<line x1="126.3" y1="414.6" x2="131.9" y2="414.6" stroke="#5a8c4c" stroke-width="1.6" stroke-linecap="butt"/>
<line x1="137.32" y1="424" x2="137.32" y2="415.4" stroke="#5a8c4c" stroke-width="1.5" stroke-linecap="butt"/>
<line x1="134.51999999999998" y1="415.4" x2="140.12" y2="415.4" stroke="#5a8c4c" stroke-width="1.6" stroke-linecap="butt"/>
<line x1="145.55" y1="416" x2="145.55" y2="406.2" stroke="#5a8c4c" stroke-width="1.5" stroke-linecap="butt"/>
<line x1="142.75" y1="406.2" x2="148.35000000000002" y2="406.2" stroke="#5a8c4c" stroke-width="1.6" stroke-linecap="butt"/>
<line x1="153.78" y1="394.6" x2="153.78" y2="376" stroke="#5a8c4c" stroke-width="1.5" stroke-linecap="butt"/>
<line x1="150.98" y1="376" x2="156.58" y2="376" stroke="#5a8c4c" stroke-width="1.6" stroke-linecap="butt"/>
<line x1="162.0" y1="357" x2="162.0" y2="337.4" stroke="#5a8c4c" stroke-width="1.5" stroke-linecap="butt"/>
<line x1="159.2" y1="337.4" x2="164.8" y2="337.4" stroke="#5a8c4c" stroke-width="1.6" stroke-linecap="butt"/>
<line x1="170.23" y1="343.7" x2="170.23" y2="331.8" stroke="#5a8c4c" stroke-width="1.5" stroke-linecap="butt"/>
<line x1="167.42999999999998" y1="331.8" x2="173.03" y2="331.8" stroke="#5a8c4c" stroke-width="1.6" stroke-linecap="butt"/>
<line x1="178.45" y1="350" x2="178.45" y2="341.2" stroke="#5a8c4c" stroke-width="1.5" stroke-linecap="butt"/>
<line x1="175.64999999999998" y1="341.2" x2="181.25" y2="341.2" stroke="#5a8c4c" stroke-width="1.6" stroke-linecap="butt"/>
<line x1="186.68" y1="362.4" x2="186.68" y2="354.2" stroke="#5a8c4c" stroke-width="1.5" stroke-linecap="butt"/>
<line x1="183.88" y1="354.2" x2="189.48000000000002" y2="354.2" stroke="#5a8c4c" stroke-width="1.6" stroke-linecap="butt"/>
<line x1="194.9" y1="367.6" x2="194.9" y2="360" stroke="#5a8c4c" stroke-width="1.5" stroke-linecap="butt"/>
<line x1="192.1" y1="360" x2="197.70000000000002" y2="360" stroke="#5a8c4c" stroke-width="1.6" stroke-linecap="butt"/>
<line x1="203.12" y1="371.6" x2="203.12" y2="366.8" stroke="#5a8c4c" stroke-width="1.5" stroke-linecap="butt"/>
<line x1="200.32" y1="366.8" x2="205.92000000000002" y2="366.8" stroke="#5a8c4c" stroke-width="1.6" stroke-linecap="butt"/>
<line x1="211.35" y1="376.4" x2="211.35" y2="372.5" stroke="#5a8c4c" stroke-width="1.5" stroke-linecap="butt"/>
<line x1="208.54999999999998" y1="372.5" x2="214.15" y2="372.5" stroke="#5a8c4c" stroke-width="1.6" stroke-linecap="butt"/>
<line x1="219.57" y1="381.1" x2="219.57" y2="377.3" stroke="#5a8c4c" stroke-width="1.5" stroke-linecap="butt"/>
<line x1="216.76999999999998" y1="377.3" x2="222.37" y2="377.3" stroke="#5a8c4c" stroke-width="1.6" stroke-linecap="butt"/>
<line x1="227.8" y1="390.1" x2="227.8" y2="386.9" stroke="#5a8c4c" stroke-width="1.5" stroke-linecap="butt"/>
<line x1="225.0" y1="386.9" x2="230.60000000000002" y2="386.9" stroke="#5a8c4c" stroke-width="1.6" stroke-linecap="butt"/>
<line x1="236.02" y1="401.2" x2="236.02" y2="398.4" stroke="#5a8c4c" stroke-width="1.5" stroke-linecap="butt"/>
<line x1="233.22" y1="398.4" x2="238.82000000000002" y2="398.4" stroke="#5a8c4c" stroke-width="1.6" stroke-linecap="butt"/>
<line x1="244.25" y1="403.2" x2="244.25" y2="398.4" stroke="#5a8c4c" stroke-width="1.5" stroke-linecap="butt"/>
<line x1="241.45" y1="398.4" x2="247.05" y2="398.4" stroke="#5a8c4c" stroke-width="1.6" stroke-linecap="butt"/>
<line x1="252.48" y1="406.5" x2="252.48" y2="401.7" stroke="#5a8c4c" stroke-width="1.5" stroke-linecap="butt"/>
<line x1="249.67999999999998" y1="401.7" x2="255.28" y2="401.7" stroke="#5a8c4c" stroke-width="1.6" stroke-linecap="butt"/>
<line x1="260.7" y1="414.2" x2="260.7" y2="411.8" stroke="#5a8c4c" stroke-width="1.5" stroke-linecap="butt"/>
<line x1="257.9" y1="411.8" x2="263.5" y2="411.8" stroke="#5a8c4c" stroke-width="1.6" stroke-linecap="butt"/>
<line x1="268.93" y1="420" x2="268.93" y2="416" stroke="#5a8c4c" stroke-width="1.5" stroke-linecap="butt"/>
<line x1="266.13" y1="416" x2="271.73" y2="416" stroke="#5a8c4c" stroke-width="1.6" stroke-linecap="butt"/>
<line x1="277.15" y1="422.7" x2="277.15" y2="419" stroke="#5a8c4c" stroke-width="1.5" stroke-linecap="butt"/>
<line x1="274.34999999999997" y1="419" x2="279.95" y2="419" stroke="#5a8c4c" stroke-width="1.6" stroke-linecap="butt"/>
<line x1="285.38" y1="424.4" x2="285.38" y2="420.5" stroke="#5a8c4c" stroke-width="1.5" stroke-linecap="butt"/>
<line x1="282.58" y1="420.5" x2="288.18" y2="420.5" stroke="#5a8c4c" stroke-width="1.6" stroke-linecap="butt"/>
<line x1="293.6" y1="426.6" x2="293.6" y2="422.5" stroke="#5a8c4c" stroke-width="1.5" stroke-linecap="butt"/>
<line x1="290.8" y1="422.5" x2="296.40000000000003" y2="422.5" stroke="#5a8c4c" stroke-width="1.6" stroke-linecap="butt"/>
<line x1="301.82" y1="428.7" x2="301.82" y2="424.5" stroke="#5a8c4c" stroke-width="1.5" stroke-linecap="butt"/>
<line x1="299.02" y1="424.5" x2="304.62" y2="424.5" stroke="#5a8c4c" stroke-width="1.6" stroke-linecap="butt"/>
<line x1="310.05" y1="430.9" x2="310.05" y2="427" stroke="#5a8c4c" stroke-width="1.5" stroke-linecap="butt"/>
<line x1="307.25" y1="427" x2="312.85" y2="427" stroke="#5a8c4c" stroke-width="1.6" stroke-linecap="butt"/>
<line x1="318.27" y1="432.8" x2="318.27" y2="429" stroke="#5a8c4c" stroke-width="1.5" stroke-linecap="butt"/>
<line x1="315.46999999999997" y1="429" x2="321.07" y2="429" stroke="#5a8c4c" stroke-width="1.6" stroke-linecap="butt"/>
<line x1="326.5" y1="433.7" x2="326.5" y2="430" stroke="#5a8c4c" stroke-width="1.5" stroke-linecap="butt"/>
<line x1="323.7" y1="430" x2="329.3" y2="430" stroke="#5a8c4c" stroke-width="1.6" stroke-linecap="butt"/>
<line x1="334.73" y1="433.7" x2="334.73" y2="430" stroke="#5a8c4c" stroke-width="1.5" stroke-linecap="butt"/>
<line x1="331.93" y1="430" x2="337.53000000000003" y2="430" stroke="#5a8c4c" stroke-width="1.6" stroke-linecap="butt"/>
<line x1="342.95" y1="435.5" x2="342.95" y2="431.5" stroke="#5a8c4c" stroke-width="1.5" stroke-linecap="butt"/>
<line x1="340.15" y1="431.5" x2="345.75" y2="431.5" stroke="#5a8c4c" stroke-width="1.6" stroke-linecap="butt"/>
<line x1="351.18" y1="437.5" x2="351.18" y2="433.5" stroke="#5a8c4c" stroke-width="1.5" stroke-linecap="butt"/>
<line x1="348.38" y1="433.5" x2="353.98" y2="433.5" stroke="#5a8c4c" stroke-width="1.6" stroke-linecap="butt"/>
<line x1="359.4" y1="438.3" x2="359.4" y2="434.3" stroke="#5a8c4c" stroke-width="1.5" stroke-linecap="butt"/>
<line x1="356.59999999999997" y1="434.3" x2="362.2" y2="434.3" stroke="#5a8c4c" stroke-width="1.6" stroke-linecap="butt"/>
<line x1="367.62" y1="439.2" x2="367.62" y2="435.2" stroke="#5a8c4c" stroke-width="1.5" stroke-linecap="butt"/>
<line x1="364.82" y1="435.2" x2="370.42" y2="435.2" stroke="#5a8c4c" stroke-width="1.6" stroke-linecap="butt"/>
<line x1="375.85" y1="441.8" x2="375.85" y2="437.8" stroke="#5a8c4c" stroke-width="1.5" stroke-linecap="butt"/>
<line x1="373.05" y1="437.8" x2="378.65000000000003" y2="437.8" stroke="#5a8c4c" stroke-width="1.6" stroke-linecap="butt"/>
<polyline points="104.42,421 112.65,420.8 120.88,420.8 129.1,423 137.32,424 145.55,416 153.78,394.6 162.0,357 170.23,343.7 178.45,350 186.68,362.4 194.9,367.6 203.12,371.6 211.35,376.4 219.57,381.1 227.8,390.1 236.02,401.2 244.25,403.2 252.48,406.5 260.7,414.2 268.93,420 277.15,422.7 285.38,424.4 293.6,426.6 301.82,428.7 310.05,430.9 318.27,432.8 326.5,433.7 334.73,433.7 342.95,435.5 351.18,437.5 359.4,438.3 367.62,439.2 375.85,441.8" fill="none" stroke="#62a040" stroke-width="2.6" stroke-linejoin="round"/>
<polygon points="101.62,423 107.22,423 104.42,418.2" fill="#68ab3e"/>
<polygon points="109.85000000000001,422.8 115.45,422.8 112.65,418.0" fill="#68ab3e"/>
<polygon points="118.08,422.8 123.67999999999999,422.8 120.88,418.0" fill="#68ab3e"/>
<polygon points="126.3,425 131.9,425 129.1,420.2" fill="#68ab3e"/>
<polygon points="134.51999999999998,426 140.12,426 137.32,421.2" fill="#68ab3e"/>
<polygon points="142.75,418 148.35000000000002,418 145.55,413.2" fill="#68ab3e"/>
<polygon points="150.98,396.6 156.58,396.6 153.78,391.8" fill="#68ab3e"/>
<polygon points="159.2,359 164.8,359 162.0,354.2" fill="#68ab3e"/>
<polygon points="167.42999999999998,345.7 173.03,345.7 170.23,340.9" fill="#68ab3e"/>
<polygon points="175.64999999999998,352 181.25,352 178.45,347.2" fill="#68ab3e"/>
<polygon points="183.88,364.4 189.48000000000002,364.4 186.68,359.59999999999997" fill="#68ab3e"/>
<polygon points="192.1,369.6 197.70000000000002,369.6 194.9,364.8" fill="#68ab3e"/>
<polygon points="200.32,373.6 205.92000000000002,373.6 203.12,368.8" fill="#68ab3e"/>
<polygon points="208.54999999999998,378.4 214.15,378.4 211.35,373.59999999999997" fill="#68ab3e"/>
<polygon points="216.76999999999998,383.1 222.37,383.1 219.57,378.3" fill="#68ab3e"/>
<polygon points="225.0,392.1 230.60000000000002,392.1 227.8,387.3" fill="#68ab3e"/>
<polygon points="233.22,403.2 238.82000000000002,403.2 236.02,398.4" fill="#68ab3e"/>
<polygon points="241.45,405.2 247.05,405.2 244.25,400.4" fill="#68ab3e"/>
<polygon points="249.67999999999998,408.5 255.28,408.5 252.48,403.7" fill="#68ab3e"/>
<polygon points="257.9,416.2 263.5,416.2 260.7,411.4" fill="#68ab3e"/>
<polygon points="266.13,422 271.73,422 268.93,417.2" fill="#68ab3e"/>
<polygon points="274.34999999999997,424.7 279.95,424.7 277.15,419.9" fill="#68ab3e"/>
<polygon points="282.58,426.4 288.18,426.4 285.38,421.59999999999997" fill="#68ab3e"/>
<polygon points="290.8,428.6 296.40000000000003,428.6 293.6,423.8" fill="#68ab3e"/>
<polygon points="299.02,430.7 304.62,430.7 301.82,425.9" fill="#68ab3e"/>
<polygon points="307.25,432.9 312.85,432.9 310.05,428.09999999999997" fill="#68ab3e"/>
<polygon points="315.46999999999997,434.8 321.07,434.8 318.27,430.0" fill="#68ab3e"/>
<polygon points="323.7,435.7 329.3,435.7 326.5,430.9" fill="#68ab3e"/>
<polygon points="331.93,435.7 337.53000000000003,435.7 334.73,430.9" fill="#68ab3e"/>
<polygon points="340.15,437.5 345.75,437.5 342.95,432.7" fill="#68ab3e"/>
<polygon points="348.38,439.5 353.98,439.5 351.18,434.7" fill="#68ab3e"/>
<polygon points="356.59999999999997,440.3 362.2,440.3 359.4,435.5" fill="#68ab3e"/>
<polygon points="364.82,441.2 370.42,441.2 367.62,436.4" fill="#68ab3e"/>
<polygon points="373.05,443.8 378.65000000000003,443.8 375.85,439.0" fill="#68ab3e"/>
<line x1="234.5" y1="274.7" x2="262" y2="274.7" stroke="#22386a" stroke-width="2.6" stroke-linecap="butt"/>
<circle cx="248.3" cy="274.7" r="2.5" fill="#2b4885"/>
<text x="267" y="278.8" font-size="12" text-anchor="start" font-weight="normal" >iso</text>
<line x1="234.5" y1="294.5" x2="262" y2="294.5" stroke="#a00a2e" stroke-width="2.6" stroke-linecap="butt"/>
<rect x="245.9" y="292.1" width="4.8" height="4.8" fill="#aa082f"/>
<text x="267" y="298.3" font-size="12" text-anchor="start" font-weight="normal" textLength="46.06" lengthAdjust="spacingAndGlyphs" >&#945;CD177</text>
<line x1="234.5" y1="316.3" x2="262" y2="316.3" stroke="#62a040" stroke-width="2.6" stroke-linecap="butt"/>
<polygon points="245.5,318.3 251.1,318.3 248.3,313.5" fill="#68ab3e"/>
<text x="267" y="319.8" font-size="12" text-anchor="start" font-weight="normal" textLength="97.06" lengthAdjust="spacingAndGlyphs" >&#945;CD177 + U0126</text>
<polyline points="317,273.4 328,273.4 328,294.4 317,294.4" fill="none" stroke="#000" stroke-width="2"/>
<text x="332.6" y="287.8" font-size="12" text-anchor="start" font-weight="normal" textLength="50.6" lengthAdjust="spacingAndGlyphs" >p&lt;0.0001</text>
<polyline points="366.8,295.6 376.6,295.6 376.6,315.6 366.8,315.6" fill="none" stroke="#000" stroke-width="2"/>
<text x="382.2" y="309.4" font-size="12" text-anchor="start" font-weight="normal" textLength="50.4" lengthAdjust="spacingAndGlyphs" >p&lt;0.0001</text>
</svg>
</body></html>
